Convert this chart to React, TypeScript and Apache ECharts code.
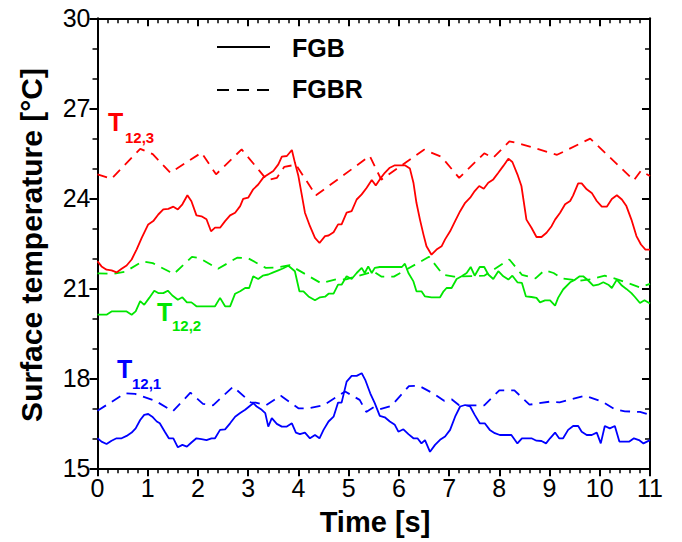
import React, { useEffect, useRef } from "react";
import * as echarts from "echarts";

// Time [s] vs surface temperature [°C]
const t123FGB: number[][] = [[0,21.9],[0.08,21.73],[0.18,21.62],[0.28,21.6],[0.38,21.53],[0.48,21.65],[0.58,21.76],[0.68,21.96],[0.78,22.3],[0.88,22.68],[1.01,23.13],[1.11,23.24],[1.21,23.46],[1.31,23.63],[1.41,23.65],[1.51,23.72],[1.6,23.63],[1.69,23.8],[1.79,24.1],[1.87,23.9],[1.97,23.43],[2.07,23.4],[2.17,23.3],[2.26,22.9],[2.34,23.02],[2.44,23.02],[2.54,23.24],[2.64,23.43],[2.74,23.52],[2.84,23.74],[2.9,23.98],[3.0,24.02],[3.1,24.3],[3.2,24.46],[3.3,24.69],[3.4,24.8],[3.5,24.91],[3.6,25.13],[3.67,25.39],[3.77,25.41],[3.87,25.61],[3.93,25.19],[4.0,24.74],[4.06,24.18],[4.13,23.52],[4.23,23.07],[4.33,22.68],[4.42,22.51],[4.53,22.74],[4.6,22.76],[4.7,22.87],[4.79,23.13],[4.86,23.13],[4.96,23.52],[5.06,23.57],[5.16,23.96],[5.26,24.13],[5.36,24.35],[5.46,24.61],[5.54,24.43],[5.62,24.63],[5.72,24.85],[5.82,25.02],[5.92,25.1],[6.02,25.1],[6.12,25.1],[6.22,24.99],[6.29,24.52],[6.35,23.85],[6.42,23.29],[6.49,22.79],[6.55,22.4],[6.65,22.12],[6.75,22.29],[6.85,22.4],[6.92,22.63],[7.02,22.9],[7.12,23.24],[7.22,23.57],[7.32,23.85],[7.42,24.02],[7.51,24.24],[7.6,24.41],[7.69,24.32],[7.78,24.52],[7.88,24.63],[7.98,24.85],[8.08,25.08],[8.18,25.32],[8.26,25.21],[8.36,24.8],[8.44,24.41],[8.54,23.29],[8.64,23.02],[8.74,22.71],[8.84,22.71],[8.94,22.85],[9.04,23.07],[9.11,23.29],[9.21,23.52],[9.31,23.8],[9.41,23.91],[9.47,24.1],[9.57,24.5],[9.64,24.5],[9.74,24.3],[9.84,24.18],[9.94,23.91],[10.04,23.72],[10.14,23.72],[10.24,23.98],[10.34,24.1],[10.44,23.96],[10.53,23.74],[10.63,23.29],[10.73,22.74],[10.82,22.46],[10.91,22.29],[11.0,22.29]];

const t123FGBR: number[][] = [[0,24.8],[0.28,24.65],[0.85,25.65],[1.1,25.47],[1.45,24.85],[2.07,25.52],[2.36,24.8],[2.87,25.63],[3.38,24.6],[3.57,24.68],[3.72,25.05],[3.95,25.12],[4.35,24.1],[5.42,25.41],[5.65,24.62],[6.5,25.62],[6.85,25.38],[7.2,24.68],[7.7,25.5],[7.88,25.35],[8.2,25.9],[8.45,25.8],[9.15,25.45],[9.81,25.99],[10.68,24.6],[10.82,24.92],[11.0,24.74]];

const t122FGB: number[][] = [[0,20.12],[0.18,20.12],[0.28,20.23],[0.38,20.23],[0.58,20.23],[0.68,20.12],[0.76,20.23],[0.85,20.57],[0.93,20.45],[1.03,20.68],[1.13,20.92],[1.21,20.84],[1.31,20.84],[1.4,20.92],[1.49,20.76],[1.6,20.62],[1.69,20.7],[1.78,20.53],[1.87,20.53],[1.97,20.4],[2.07,20.4],[2.34,20.4],[2.44,20.68],[2.54,20.4],[2.64,20.4],[2.74,20.82],[2.84,20.9],[2.94,21.01],[3.02,21.01],[3.1,21.4],[3.2,21.31],[3.29,21.42],[3.4,21.46],[3.5,21.53],[3.6,21.6],[3.69,21.66],[3.8,21.75],[3.93,21.57],[4.02,20.9],[4.1,20.9],[4.2,20.73],[4.33,20.6],[4.43,20.7],[4.53,20.72],[4.6,20.82],[4.7,20.82],[4.79,21.12],[4.86,21.12],[4.96,21.4],[5.06,21.31],[5.16,21.51],[5.26,21.68],[5.32,21.51],[5.39,21.73],[5.46,21.51],[5.52,21.68],[5.62,21.71],[5.72,21.71],[5.92,21.71],[6.06,21.71],[6.12,21.82],[6.19,21.51],[6.29,21.23],[6.35,20.9],[6.45,20.9],[6.52,20.73],[6.65,20.7],[6.82,20.7],[6.89,20.9],[6.95,21.01],[7.05,21.01],[7.15,21.31],[7.25,21.4],[7.35,21.51],[7.43,21.71],[7.51,21.42],[7.61,21.71],[7.7,21.71],[7.78,21.46],[7.88,21.31],[7.98,21.57],[8.08,21.4],[8.18,21.29],[8.26,21.42],[8.36,21.2],[8.45,21.18],[8.53,20.73],[8.64,20.71],[8.74,20.68],[8.81,20.53],[8.91,20.6],[9.01,20.6],[9.11,20.42],[9.17,20.68],[9.27,20.96],[9.41,21.2],[9.51,21.29],[9.6,21.4],[9.67,21.4],[9.77,21.26],[9.87,21.09],[9.97,21.12],[10.07,21.2],[10.17,21.12],[10.24,21.01],[10.34,21.29],[10.44,21.09],[10.53,20.98],[10.63,20.84],[10.7,20.71],[10.8,20.51],[10.89,20.6],[11.0,20.49]];

const t122FGBR: number[][] = [[0,21.5],[0.3,21.48],[0.55,21.55],[0.9,21.9],[1.1,21.84],[1.52,21.48],[1.88,22.05],[2.04,22.0],[2.4,21.65],[2.78,22.02],[3.0,22.0],[3.35,21.68],[3.6,21.7],[3.83,21.77],[4.45,21.17],[4.75,21.3],[4.95,21.3],[5.5,21.56],[5.65,21.39],[5.9,21.39],[6.6,22.05],[6.88,21.45],[7.1,21.39],[7.7,21.42],[8.2,21.96],[8.45,21.45],[8.72,21.33],[8.9,21.6],[9.08,21.51],[9.25,21.33],[9.6,21.25],[9.8,21.3],[10.1,21.42],[10.35,21.3],[10.8,21.03],[11.0,21.15]];

const t121FGB: number[][] = [[0,16.0],[0.08,15.89],[0.18,15.81],[0.28,15.92],[0.38,16.0],[0.48,16.0],[0.58,16.08],[0.68,16.19],[0.76,16.33],[0.85,16.61],[0.93,16.78],[1.01,16.81],[1.09,16.72],[1.18,16.56],[1.24,16.5],[1.34,16.22],[1.42,16.0],[1.51,16.0],[1.6,15.7],[1.69,15.78],[1.78,15.72],[1.87,15.86],[1.97,16.0],[2.07,15.97],[2.17,15.94],[2.27,16.0],[2.34,16.0],[2.44,16.28],[2.54,16.3],[2.64,16.5],[2.74,16.72],[2.84,16.84],[2.94,16.95],[3.02,17.06],[3.1,17.17],[3.17,17.06],[3.27,16.95],[3.34,16.84],[3.4,16.39],[3.47,16.67],[3.57,16.48],[3.67,16.39],[3.77,16.39],[3.87,16.5],[3.95,16.19],[4.03,16.14],[4.13,16.19],[4.23,16.0],[4.33,16.11],[4.42,16.0],[4.5,16.28],[4.6,16.56],[4.7,16.72],[4.79,17.19],[4.86,17.19],[4.96,17.89],[5.06,18.08],[5.16,18.08],[5.26,18.17],[5.33,17.95],[5.43,17.5],[5.52,17.17],[5.62,16.75],[5.72,16.7],[5.82,16.56],[5.92,16.45],[5.99,16.22],[6.09,16.3],[6.19,16.14],[6.29,16.0],[6.37,16.0],[6.45,15.83],[6.52,15.94],[6.62,15.55],[6.72,15.78],[6.82,15.95],[6.92,16.06],[7.02,16.28],[7.12,16.72],[7.22,17.06],[7.32,17.11],[7.42,17.06],[7.51,16.78],[7.61,16.5],[7.71,16.5],[7.81,16.28],[7.91,16.17],[8.01,16.11],[8.11,16.11],[8.24,16.11],[8.36,15.83],[8.45,16.0],[8.54,16.0],[8.64,16.0],[8.74,15.92],[8.84,15.91],[8.93,15.83],[9.01,16.0],[9.11,16.19],[9.19,16.0],[9.27,16.0],[9.37,16.28],[9.47,16.41],[9.57,16.41],[9.64,16.22],[9.74,16.11],[9.84,16.11],[9.94,16.19],[10.02,15.83],[10.1,16.41],[10.2,16.33],[10.3,16.41],[10.39,15.89],[10.49,15.89],[10.59,15.89],[10.68,16.0],[10.78,15.94],[10.87,15.83],[11.0,15.94]];

const t121FGBR: number[][] = [[0,16.92],[0.55,17.5],[0.75,17.48],[1.15,17.25],[1.5,16.9],[1.85,17.52],[2.1,17.15],[2.3,17.1],[2.7,17.72],[3.05,17.2],[3.15,17.19],[3.35,17.1],[3.65,17.42],[4.0,17.0],[4.2,17.0],[4.5,17.1],[4.93,17.56],[5.22,17.28],[5.35,16.88],[5.5,17.04],[5.62,16.97],[5.85,17.08],[6.2,17.74],[6.4,17.75],[6.7,17.48],[6.9,17.25],[7.05,17.3],[7.2,17.1],[7.7,17.1],[8.0,17.6],[8.3,17.6],[8.6,17.12],[9.0,17.22],[9.2,17.2],[9.7,17.42],[10.05,17.22],[10.3,16.97],[10.5,16.9],[10.8,16.88],[11.0,16.78]];

const RED = "#ff0000";
const GREEN = "#00e600";
const BLUE = "#0000ff";
const SANS = "'Liberation Sans', Arial, sans-serif";
const NARROW = "'Liberation Sans Narrow', 'Arial Narrow', 'Liberation Sans', sans-serif";

export default function App() {
  const ref = useRef<HTMLDivElement>(null);
  useEffect(() => {
    document.body.style.margin = "0";
    const chart = echarts.init(ref.current!, null, { renderer: "svg" });
    const axisLine = { show: true, onZero: false, lineStyle: { color: "#000", width: 2 } };
    const tick = (inside: boolean) => ({ show: true, inside, length: 8, lineStyle: { color: "#000", width: 2 } });
    const minor = (n: number) => ({ show: true, splitNumber: n, length: 5, lineStyle: { color: "#000", width: 1.5 } });
    const line = (data: number[][], color: string, dashed: boolean) => ({
      type: "line",
      data,
      showSymbol: false,
      symbol: "none",
      lineStyle: { color, width: 1.8, type: dashed ? [10, 7] : "solid" },
      z: dashed ? 2 : 3,
    });
    chart.setOption({
      animation: false,
      backgroundColor: "#fff",
      grid: { left: 97.5, top: 18.3, right: 32, bottom: 73.7, containLabel: false },
      xAxis: [
        {
          type: "value", min: 0, max: 11, interval: 1, position: "bottom",
          axisLine, axisTick: tick(false), minorTick: minor(5), splitLine: { show: false },
          axisLabel: { fontSize: 25, fontFamily: NARROW, color: "#000", margin: 7 },
        },
        {
          type: "value", min: 0, max: 11, interval: 1, position: "top",
          axisLine, axisTick: tick(true), minorTick: minor(5), splitLine: { show: false },
          axisLabel: { show: false },
        },
      ],
      yAxis: [
        {
          type: "value", min: 15, max: 30, interval: 3, position: "left",
          axisLine, axisTick: tick(false), minorTick: minor(3), splitLine: { show: false },
          axisLabel: { fontSize: 25, fontFamily: NARROW, color: "#000", margin: 7 },
        },
        {
          type: "value", min: 15, max: 30, interval: 3, position: "right",
          axisLine, axisTick: tick(true), minorTick: minor(3), splitLine: { show: false },
          axisLabel: { show: false },
        },
      ],
      series: [
        line(t123FGBR, RED, true),
        line(t122FGBR, GREEN, true),
        line(t121FGBR, BLUE, true),
        line(t123FGB, RED, false),
        line(t122FGB, GREEN, false),
        line(t121FGB, BLUE, false),
      ],
      graphic: [
        { type: "text", x: 31, y: 245, rotation: Math.PI / 2, style: { text: "Surface temperature [°C]", font: `bold 30px ${SANS}`, fill: "#000", textAlign: "center", textVerticalAlign: "middle" } },
        { type: "text", x: 375, y: 522, style: { text: "Time [s]", font: `bold 29px ${SANS}`, fill: "#000", textAlign: "center", textVerticalAlign: "middle" } },
        { type: "line", shape: { x1: 217, y1: 47, x2: 270, y2: 47 }, style: { stroke: "#000", lineWidth: 2 } },
        { type: "text", x: 292, y: 48, style: { text: "FGB", font: `bold 25px ${SANS}`, fill: "#000", textAlign: "left", textVerticalAlign: "middle" } },
        { type: "line", shape: { x1: 217, y1: 90, x2: 270, y2: 90 }, style: { stroke: "#000", lineWidth: 2, lineDash: [12, 8] } },
        { type: "text", x: 292, y: 89, style: { text: "FGBR", font: `bold 25px ${SANS}`, fill: "#000", textAlign: "left", textVerticalAlign: "middle" } },
        { type: "text", x: 108, y: 122, style: { text: "T", font: `bold 25px ${SANS}`, fill: RED, textAlign: "left", textVerticalAlign: "middle" } },
        { type: "text", x: 125, y: 137, style: { text: "12,3", font: `bold 15px ${SANS}`, fill: RED, textAlign: "left", textVerticalAlign: "middle" } },
        { type: "text", x: 157, y: 312, style: { text: "T", font: `bold 25px ${SANS}`, fill: GREEN, textAlign: "left", textVerticalAlign: "middle" } },
        { type: "text", x: 172, y: 325, style: { text: "12,2", font: `bold 15px ${SANS}`, fill: GREEN, textAlign: "left", textVerticalAlign: "middle" } },
        { type: "text", x: 117, y: 369, style: { text: "T", font: `bold 25px ${SANS}`, fill: BLUE, textAlign: "left", textVerticalAlign: "middle" } },
        { type: "text", x: 132, y: 383, style: { text: "12,1", font: `bold 15px ${SANS}`, fill: BLUE, textAlign: "left", textVerticalAlign: "middle" } },
      ],
    });
    return () => chart.dispose();
  }, []);
  return <div ref={ref} style={{ width: 682, height: 542 }} />;
}
